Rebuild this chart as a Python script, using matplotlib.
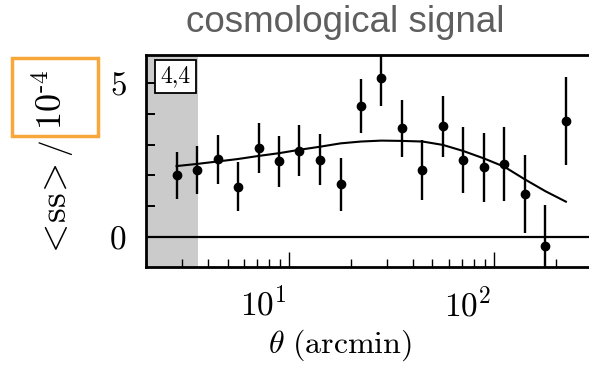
import numpy as np
import matplotlib
matplotlib.use("Agg")
import matplotlib.pyplot as plt
import matplotlib.transforms as mtransforms
from matplotlib.patches import Rectangle
from matplotlib.ticker import FixedLocator, NullFormatter

plt.rcParams['font.family'] = 'serif'
plt.rcParams['font.serif'] = ['cmr10']
plt.rcParams['mathtext.fontset'] = 'cm'
plt.rcParams['axes.formatter.use_mathtext'] = True

# measured correlation in bins of theta (arcmin)
theta = [2.82, 3.55, 4.47, 5.62, 7.08, 8.91, 11.2, 14.1, 17.8, 22.4,
         28.2, 35.5, 44.7, 56.2, 70.8, 89.1, 112, 141, 178, 224]
signal = [2.00, 2.17, 2.52, 1.63, 2.88, 2.45, 2.80, 2.50, 1.70, 4.26,
          5.16, 3.53, 2.17, 3.59, 2.50, 2.26, 2.37, 1.39, -0.30, 3.77]
error = [0.77, 0.77, 0.79, 0.79, 0.82, 0.82, 0.83, 0.83, 0.86, 0.87,
         0.90, 0.93, 0.97, 1.00, 1.07, 1.13, 1.20, 1.28, 1.33, 1.43]
model = [2.30, 2.37, 2.45, 2.53, 2.63, 2.72, 2.83, 2.93, 3.04, 3.10,
         3.13, 3.12, 3.10, 2.99, 2.79, 2.55, 2.28, 1.87, 1.48, 1.14]
cut = 3.6  # scales excluded

fig = plt.figure(figsize=(5.89, 3.66), dpi=100)
ax = fig.add_axes([0.2479, 0.2713, 0.757, 0.5784])

ax.axvspan(2, cut, color='#cbcbcb', lw=0)
ax.axhline(0, color='black', lw=1.6)
ax.plot(theta, model, color='black', lw=1.5)
ax.errorbar(theta, signal, yerr=error, fmt='o', color='black',
            ms=6, elinewidth=1.7, capsize=0)

ax.set_xscale('log')
ax.set_xlim(2, 300)
ax.set_ylim(-0.98, 5.92)

ax.yaxis.set_major_locator(FixedLocator([0, 5]))
ax.yaxis.set_minor_locator(FixedLocator([1, 2, 3, 4]))
ax.yaxis.set_minor_formatter(NullFormatter())
ax.tick_params(axis='both', which='both', direction='in', labelsize=24,
               top=False, right=False)
ax.tick_params(axis='x', which='major', length=11, width=1.0, pad=14)
ax.tick_params(axis='x', which='minor', length=6, width=1.0)
ax.tick_params(axis='y', which='both', length=6.5, width=1.4, pad=14)
for s in ax.spines.values():
    s.set_linewidth(2)
ax.spines['right'].set_visible(False)

# x tick labels sit a bit to the left of their ticks
shift = mtransforms.ScaledTranslation(-0.26, 0, fig.dpi_scale_trans)
for lab in ax.get_xticklabels():
    lab.set_transform(lab.get_transform() + shift)

ax.text(0.066, 0.899, '4,4', transform=ax.transAxes, fontsize=17,
        ha='center', va='center',
        bbox=dict(boxstyle='square,pad=0.22', fc='white', ec='black', lw=1.3))

fig.text(340 / 589, 1 - 345 / 366, r'$\theta\ \mathrm{(arcmin)}$',
         fontsize=23, ha='center', va='center')

fig.text(56 / 589, 1 - 211 / 366, r'$<\!\mathrm{ss}\!>$', rotation=90,
         fontsize=27, ha='center', va='center')
fig.text(54.5 / 589, 1 - 146.5 / 366, '/', rotation=90,
         fontsize=24, ha='center', va='center')
fig.text(52 / 589, 1 - 100 / 366, r'$10^{\text{-}4}$', rotation=90,
         fontsize=26, ha='center', va='center')
fig.patches.append(Rectangle((12 / 589, 1 - 136 / 366), 86 / 589, 78 / 366,
                             transform=fig.transFigure, fill=False,
                             edgecolor='#f8a83b', lw=2.5))

fig.text(345 / 589, 1 - 22.5 / 366, 'cosmological signal',
         family='Liberation Sans', fontsize=26.5, color='#5e5e5e',
         ha='center', va='center')

fig.savefig('out.png', dpi=100)
